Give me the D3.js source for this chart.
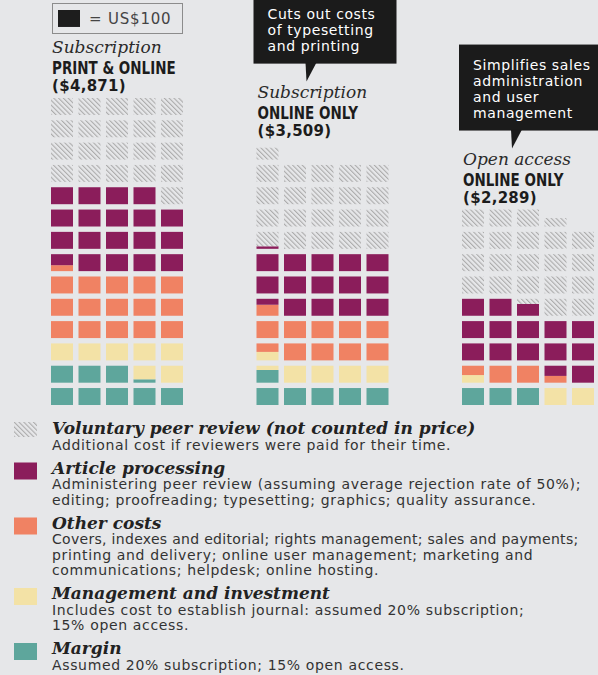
<!DOCTYPE html>
<html>
<head>
<meta charset="utf-8">
<script src="https://cdn.jsdelivr.net/npm/d3@7"></script>
<style>
  html, body { margin: 0; padding: 0; background: #e6e7e9; }
  svg { display: block; }
  .type { font-family: "DejaVu Serif", serif; font-style: italic; font-size: 17px; fill: #2a2a2a; }
  .model { font-family: "DejaVu Sans", sans-serif; font-weight: bold; font-size: 17.5px; fill: #1c1c1c; }
  .total { font-family: "DejaVu Sans", sans-serif; font-weight: bold; font-size: 15px; letter-spacing: 0.3px; fill: #1c1c1c; }
  .note { font-family: "DejaVu Sans", sans-serif; font-size: 14px; letter-spacing: 0.6px; fill: #fff; }
  .key-label { font-family: "DejaVu Sans", sans-serif; font-size: 15px; letter-spacing: 0.8px; fill: #444; }
  .legend-head { font-family: "DejaVu Serif", serif; font-weight: bold; font-style: italic; font-size: 17px; fill: #222; }
  .legend-desc { font-family: "DejaVu Sans", sans-serif; font-size: 14px; letter-spacing: 0.65px; fill: #333; }
  .legend-desc.tight { letter-spacing: 0.3px; }
</style>
</head>
<body>
<div id="chart"></div>
<script>
// one square = US$100, stacked from the bottom row, left to right
const UNIT = 100;
const unitLabel = '= US$100';

const modelTypes = ['Subscription', 'Subscription', 'Open access'];
const models = ['PRINT & ONLINE', 'ONLINE ONLY', 'ONLINE ONLY'];
const totals = ['($4,871)', '($3,509)', '($2,289)'];

// stack order (bottom first)
const categories = ['Margin', 'Management and investment', 'Other costs', 'Article processing',
  'Voluntary peer review (not counted in price)'];
const margin = [820, 575, 300];
const management = [680, 475, 245];
const otherCosts = [1535, 1015, 295];
const articleProcessing = [1865, 1450, 1430];
const peerReview = [2100, 2055, 2080];

const descriptions = [
  ['Assumed 20% subscription; 15% open access.'],
  ['Includes cost to establish journal: assumed 20% subscription;', '15% open access.'],
  ['Covers, indexes and editorial; rights management; sales and payments;',
    'printing and delivery; online user management; marketing and',
    'communications; helpdesk; online hosting.'],
  ['Administering peer review (assuming average rejection rate of 50%);',
    'editing; proofreading; typesetting; graphics; quality assurance.'],
  ['Additional cost if reviewers were paid for their time.']
];

const notes = [
  { column: 1, lines: ['Cuts out costs', 'of typesetting', 'and printing'] },
  { column: 2, lines: ['Simplifies sales', 'administration', 'and user', 'management'] }
];

const COLS = 5, ROWS = 14;
const W = 598, H = 675;
const BG = '#e6e7e9';

const svg = d3.select('#chart').append('svg')
  .attr('width', W)
  .attr('height', H);

svg.append('rect').attr('width', W).attr('height', H).attr('fill', BG);

// Hatch for the voluntary peer review squares
const pat = svg.append('defs').append('pattern')
  .attr('id', 'hatch')
  .attr('patternUnits', 'userSpaceOnUse')
  .attr('width', 3.4).attr('height', 3.4)
  .attr('patternTransform', 'rotate(-45)');
pat.append('rect').attr('width', 3.4).attr('height', 3.4).attr('fill', BG);
pat.append('line')
  .attr('x1', 0).attr('y1', 0).attr('x2', 0).attr('y2', 3.4)
  .attr('stroke', '#acacac').attr('stroke-width', 2.2);

const color = d3.scaleOrdinal()
  .domain(categories)
  .range(['#5ea69c', '#f3e2a6', '#f08263', '#8b1d5b', 'url(#hatch)']);

const x = d3.scaleBand().domain(d3.range(COLS)).range([0, 132]).paddingInner(0.2);
const y = d3.scaleBand().domain(d3.range(ROWS)).range([405, 98]).paddingInner(0.24);
const colX = d3.scalePoint().domain(d3.range(models.length)).range([51, 462]);

const series = [margin, management, otherCosts, articleProcessing, peerReview];
const topOf = [];

models.forEach((model, m) => {
  const values = series.map(s => s[m] / UNIT);
  const ends = Array.from(d3.cumsum(values));
  const pieces = [];
  ends.forEach((hi, c) => {
    const lo = hi - values[c];
    for (let k = Math.floor(lo); k < Math.ceil(hi); k++) {
      const a = Math.max(lo, k) - k, b = Math.min(hi, k + 1) - k;
      if (b - a > 1e-6) pieces.push({ k, c, a, b });
    }
  });

  const g = svg.append('g').attr('transform', `translate(${colX(m)},0)`);

  g.selectAll('rect.cell')
    .data(pieces)
    .join('rect')
    .attr('class', 'cell')
    .attr('x', d => x(d.k % COLS))
    .attr('y', d => y(Math.floor(d.k / COLS)) + y.bandwidth() * (1 - d.b))
    .attr('width', x.bandwidth())
    .attr('height', d => y.bandwidth() * (d.b - d.a))
    .attr('fill', d => color(categories[d.c]));

  // Headers sit on top of the stack
  const topY = y(Math.floor((ends[ends.length - 1] - 1e-6) / COLS));
  topOf[m] = topY;

  g.append('text').attr('class', 'total').attr('x', 1).attr('y', topY - 7).text(totals[m]);

  const mt = g.append('text').attr('class', 'model').attr('x', 1).attr('y', topY - 24).text(model);
  mt.attr('textLength', mt.node().getComputedTextLength() * 0.77)
    .attr('lengthAdjust', 'spacingAndGlyphs');

  g.append('text').attr('class', 'type').attr('x', 1).attr('y', topY - 45).text(modelTypes[m]);
});

// Speech-bubble notes
notes.forEach(n => {
  const left = colX(n.column) - 3;
  const bottom = topOf[n.column] - 79;
  const g = svg.append('g');
  const box = g.append('rect').attr('fill', '#1b1b1b');
  const texts = g.selectAll('text.note')
    .data(n.lines)
    .join('text')
    .attr('class', 'note')
    .attr('x', left + 14)
    .attr('y', (d, i) => bottom - 13 - 16 * (n.lines.length - 1 - i))
    .text(d => d);
  const maxW = d3.max(texts.nodes(), t => t.getComputedTextLength());
  const top = bottom - 13 - 16 * (n.lines.length - 1) - 25;
  box.attr('x', left).attr('y', top).attr('width', maxW + 35).attr('height', bottom - top);
  const tip = colX(n.column) + 50;
  g.append('path')
    .attr('d', `M${tip - 1},${bottom - 1}L${tip + 10},${bottom - 1}L${tip},${bottom + 18}Z`)
    .attr('fill', '#1b1b1b');
});

// Unit key
const key = svg.append('g');
key.append('rect').attr('x', 52.5).attr('y', 3.5).attr('width', 130).attr('height', 30)
  .attr('fill', 'none').attr('stroke', '#8c8c8c');
key.append('rect').attr('x', 58).attr('y', 10).attr('width', x.bandwidth()).attr('height', y.bandwidth())
  .attr('fill', '#1d1d1d');
key.append('text').attr('class', 'key-label').attr('x', 89).attr('y', 24).text(unitLabel);

// Legend, top to bottom = reverse stack order
const LINE = 15.5, GAP = 24, LX = 52;
let ly = 434;
d3.range(categories.length - 1, -1, -1).forEach(c => {
  const g = svg.append('g');
  const hatched = c === categories.length - 1;
  g.append('rect')
    .attr('x', 14)
    .attr('y', hatched ? ly - 12 : ly - 11)
    .attr('width', 23)
    .attr('height', hatched ? 15 : 17)
    .attr('fill', color(categories[c]));
  g.append('text').attr('class', 'legend-head').attr('x', LX).attr('y', ly).text(categories[c]);
  descriptions[c].forEach((line, i) => {
    const t = g.append('text').attr('class', 'legend-desc').attr('x', LX).attr('y', ly + LINE * (i + 1)).text(line);
    // keep long lines inside the frame
    if (LX + t.node().getComputedTextLength() > W - 6) t.classed('tight', true);
  });
  ly += LINE * descriptions[c].length + GAP;
});
</script>
</body>
</html>
